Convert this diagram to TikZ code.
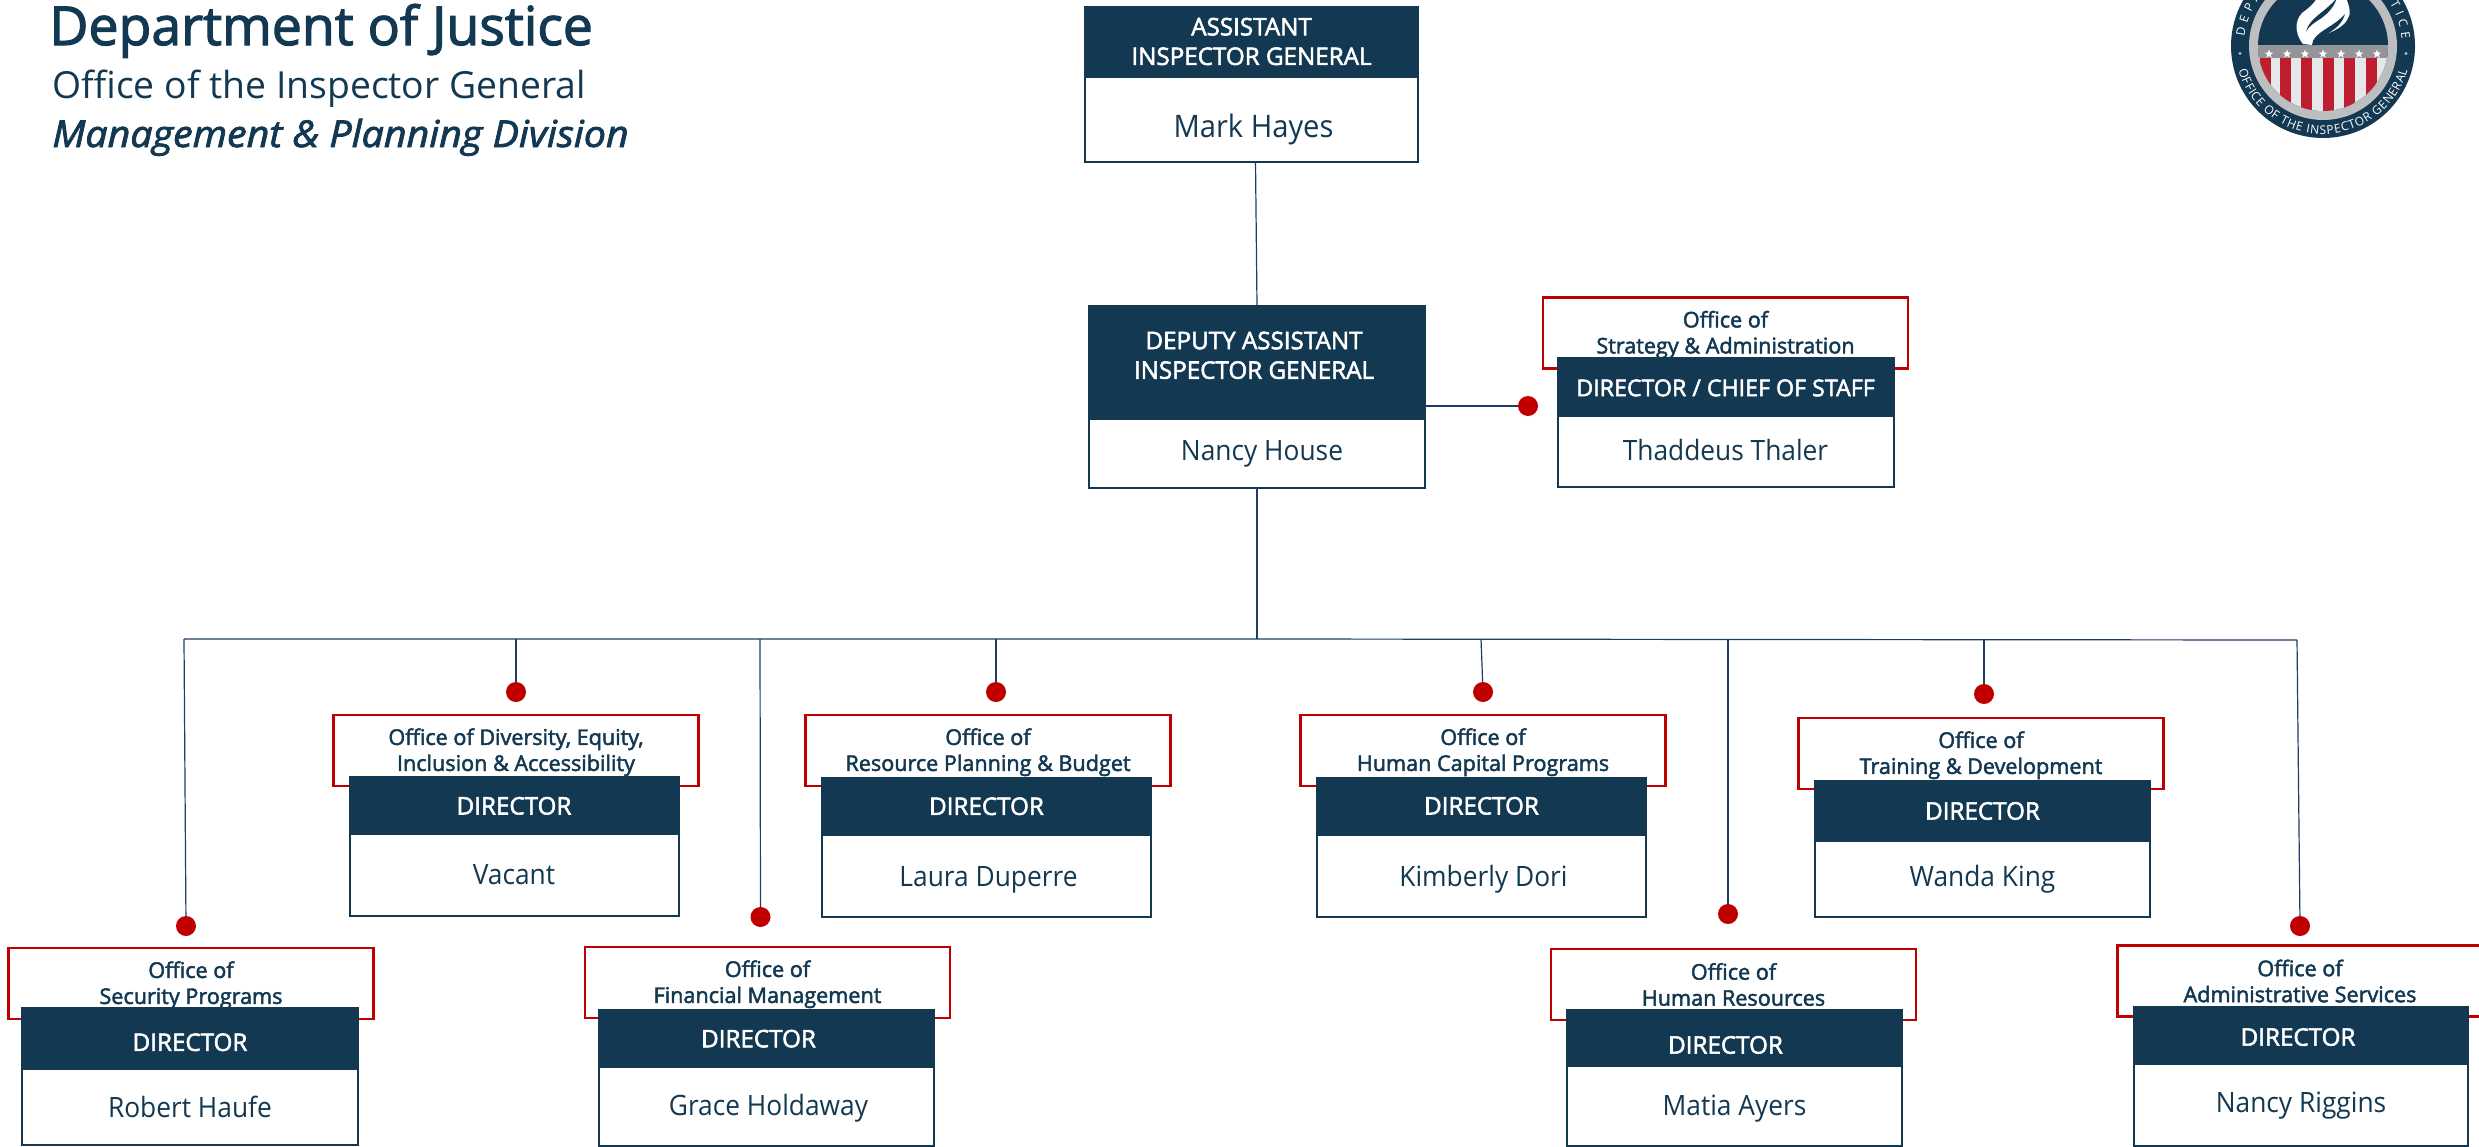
\documentclass[tikz,border=0pt]{standalone}
\usepackage{fontspec}
\setmainfont{Open Sans}
\newfontfamily\semifont[FakeBold=2.2]{Open Sans}
\newfontfamily\namefont[FakeStretch=0.94]{Open Sans}
\newfontfamily\divfont[FakeBold=2.2,FakeStretch=1.065]{Open Sans}
\usepackage{tikz}
\usetikzlibrary{positioning, shapes.geometric, decorations.text}
\definecolor{navy}{HTML}{123852}
\definecolor{linkblue}{HTML}{1F3B66}
\definecolor{orgred}{HTML}{C00000}
\definecolor{ringgrey}{HTML}{BCBEC0}
\definecolor{bandgrey}{HTML}{939598}
\definecolor{stripered}{HTML}{BE1E2D}
\definecolor{stripewhite}{HTML}{E6E7E8}
\newcommand{\lowerby}[2]{\raisebox{-#1pt}[0pt][0pt]{#2}}
\tikzset{
	boxsize/.style 2 args={minimum width=#1*0.5pt, minimum height=#2*0.5pt},
	headbox/.style={rectangle, draw=navy, fill=navy, text=white, line width=1pt, inner sep=0pt, outer sep=0pt, align=center, font=\fontsize{12.1}{14.8}\semifont},
	namebox/.style={rectangle, draw=navy, fill=white, text=navy, line width=1pt, inner sep=0pt, outer sep=0pt, font=\fontsize{14}{17}\namefont},
	officebox/.style={rectangle, draw=orgred, fill=white, text=navy, line width=1.2pt, inner sep=0pt, outer sep=0pt, align=center, minimum width=182.5pt, minimum height=35.5pt, font=\fontsize{10.8}{13}\semifont},
	reddot/.style={circle, fill=orgred, inner sep=0pt, outer sep=0pt, minimum size=10pt},
	link/.style={draw=linkblue, line width=0.6pt},
	titletext/.style={anchor=base west, inner sep=0pt, text=navy}
}

\begin{document}
\begin{tikzpicture}[x=0.5pt, y=-0.5pt]
		\clip (0,0) rectangle (2479,1146);
		% title %
		\node[titletext, font=\fontsize{26.8}{30}\semifont] (dept) at (49,45) {Department of Justice};
		\node[titletext, font=\fontsize{18.65}{22}\selectfont] (oig) at (52,98) {Office of the Inspector General};
		\node[titletext, font=\fontsize{18.5}{22}\divfont\itshape] (mpd) at (52,147) {Management \& Planning Division};

		% top nodes %
		\node[headbox, boxsize={333}{70}] (hhayes) at (1251.5,41.5) {ASSISTANT\\INSPECTOR GENERAL};
		\node[namebox, boxsize={333}{85}, below=0pt of hhayes] (nhayes) {\fontsize{15.5}{18}\selectfont\lowerby{9}{\hspace*{2pt}Mark Hayes}};
		\node[headbox, boxsize={336}{113}] (hhouse) at (1257,362.5) {\hspace*{-3pt}DEPUTY ASSISTANT\\\hspace*{-3pt}INSPECTOR GENERAL\\[-7.5pt]\mbox{}};
		\node[namebox, boxsize={336}{69}, below=0pt of hhouse] (nhouse) {\lowerby{3.3}{\hspace*{5pt}Nancy House}};

		\node[officebox] (ostrategy) at (1725.5,333) {\rule{0pt}{10pt}Office of\\Strategy \& Administration};
		\node[headbox, boxsize={336}{58}] (hthaler) at (1725.5,387) {\fontsize{11.6}{14}\semifont\lowerby{4.6}{DIRECTOR / CHIEF OF STAFF}};
		\node[namebox, boxsize={336}{71}, below=0pt of hthaler] (nthaler) {\lowerby{4.4}{Thaddeus Thaler}};
		\node[reddot] (dstrategy) at (1528,406) {};

		% second row %
		\node[officebox] (odiversity) at (516,750.5) {\rule{0pt}{10pt}Office of Diversity, Equity,\\Inclusion \& Accessibility};
		\node[headbox, boxsize={329}{57}] (hvacant) at (514,805.5) {\lowerby{4.5}{DIRECTOR}};
		\node[namebox, boxsize={329}{82}, below=0pt of hvacant] (nvacant) {\lowerby{4.9}{Vacant}};
		\node[reddot] (ddiversity) at (516,692) {};

		\node[officebox] (oresource) at (988,750.5) {\rule{0pt}{10pt}Office of\\Resource Planning \& Budget};
		\node[headbox, boxsize={329}{57}] (hduperre) at (986.5,806.5) {\lowerby{4.2}{DIRECTOR}};
		\node[namebox, boxsize={329}{82}, below=0pt of hduperre] (nduperre) {\lowerby{5.2}{\hspace*{2pt}Laura Duperre}};
		\node[reddot] (dresource) at (996,692) {};

		\node[officebox] (ocapital) at (1483,750.5) {\rule{0pt}{10pt}Office of\\Human Capital Programs};
		\node[headbox, boxsize={329}{57}] (hdori) at (1481.5,806.5) {\lowerby{4}{DIRECTOR}};
		\node[namebox, boxsize={329}{82}, below=0pt of hdori] (ndori) {\lowerby{5.2}{\hspace*{2pt}Kimberly Dori}};
		\node[reddot] (dcapital) at (1483,692) {};

		\node[officebox] (otraining) at (1981,753.5) {\rule{0pt}{10pt}Office of\\Training \& Development};
		\node[headbox, boxsize={335}{60}] (hking) at (1982.5,811) {\lowerby{4.3}{DIRECTOR}};
		\node[namebox, boxsize={335}{76}, below=0pt of hking] (nking) {\lowerby{3.7}{Wanda King}};
		\node[reddot] (dtraining) at (1984,694) {};

		% bottom row %
		\node[officebox] (osecurity) at (191,983.5) {\rule{0pt}{10pt}Office of\\Security Programs};
		\node[headbox, boxsize={336}{61}] (hhaufe) at (190,1038.5) {\lowerby{6.2}{DIRECTOR}};
		\node[namebox, boxsize={336}{76}, below=0pt of hhaufe] (nhaufe) {\lowerby{5.3}{Robert Haufe}};
		\node[reddot] (dsecurity) at (186,926) {};

		\node[officebox] (ofinancial) at (767.5,982.5) {\rule{0pt}{10pt}Office of\\Financial Management};
		\node[headbox, boxsize={335}{57}] (hholdaway) at (766.5,1038.5) {\lowerby{4.4}{\hspace*{-8pt}DIRECTOR}};
		\node[namebox, boxsize={335}{79}, below=0pt of hholdaway] (nholdaway) {\lowerby{4.5}{\hspace*{2pt}Grace Holdaway}};
		\node[reddot] (dfinancial) at (760.5,917) {};

		\node[officebox] (ohuman) at (1733.5,984.5) {Office of\\Human Resources};
		\node[headbox, boxsize={335}{56}] (hayers) at (1734.5,1038) {\lowerby{7.8}{\hspace*{-9pt}DIRECTOR}};
		\node[namebox, boxsize={335}{80}, below=0pt of hayers] (nayers) {\lowerby{4.8}{Matia Ayers}};
		\node[reddot] (dhuman) at (1728,914) {};

		\node[officebox] (oadmin) at (2300,981) {Office of\\Administrative Services};
		\node[headbox, boxsize={334}{57}] (hriggins) at (2301,1035.5) {\lowerby{5.1}{\hspace*{-3pt}DIRECTOR}};
		\node[namebox, boxsize={334}{82}, below=0pt of hriggins] (nriggins) {\lowerby{3.8}{Nancy Riggins}};
		\node[reddot] (dadmin) at (2300,926) {};

		% edges %
		\coordinate (bsecurity) at (184,639);
		\coordinate (bdiversity) at (516,639);
		\coordinate (bfinancial) at (760,639);
		\coordinate (bresource) at (996,639);
		\coordinate (btrunk) at (1257,639);
		\coordinate (bcapital) at (1481,639);
		\coordinate (bhuman) at (1728,640);
		\coordinate (btraining) at (1984,640);
		\coordinate (badmin) at (2297,640);
		\draw[link] ([xshift=2pt]nhayes.south) -- (hhouse.north);
		\draw[link] (nhouse.south) -- (btrunk);
		\draw[link] (hhouse.east |- dstrategy) -- (dstrategy);
		\draw[link] (bsecurity) -- (btrunk) -- (badmin);
		\draw[link] (bsecurity) -- (dsecurity);
		\draw[link] (bdiversity) -- (ddiversity);
		\draw[link] (bfinancial) -- (dfinancial);
		\draw[link] (bresource) -- (dresource);
		\draw[link] (bcapital) -- (dcapital);
		\draw[link] (bhuman) -- (dhuman);
		\draw[link] (btraining) -- (dtraining);
		\draw[link] (badmin) -- (dadmin);

		% seal %
		\begin{scope}[shift={(2323,46)}, x=0.5pt, y=0.5pt]
			\fill[navy] (0,0) circle (92);
			\fill[ringgrey] (0,0) circle (74);
			\begin{scope}
				\clip (0,0) circle (65);
				\fill[navy] (-66,-66) rectangle (66,66);
				\fill[stripewhite] (-66,-66) rectangle (66,-12);
				\foreach \sx in {-63,-43,-22,0,21,43}
					\fill[stripered] (\sx,-66) rectangle ++(10.5,54);
				\fill[bandgrey] (-66,-12) rectangle (66,1);
				\foreach \sx in {-54,-36,-18,0,18,36,54}
					\node[star, star points=5, star point ratio=2.4, fill=white, inner sep=0pt, minimum size=4.5pt] at (\sx,-8) {};
				\fill[white] (-20,2) .. controls (-30,14) and (-28,30) .. (-17,36) .. controls (-12,40) and (-8,44) .. (-6,48) -- (23,48) .. controls (27,38) and (28,32) .. (25,28) .. controls (22,20) and (10,14) .. (0,11) .. controls (-6,9) and (-10,5) .. (-11,1) -- cycle;
				\fill[navy] (-17,14) .. controls (-14,28) and (0,32) .. (14,48) .. controls (6,26) and (-12,26) .. (-17,14) -- cycle;
				\fill[navy] (-11,1) .. controls (-10,14) and (10,18) .. (22,32) .. controls (16,12) and (-6,12) .. (-6,1) -- cycle;
			\end{scope}
			\fill[ringgrey] (-83,-7.5) circle (1.6);
			\fill[ringgrey] (83,-7.5) circle (1.6);
			\path[decorate, decoration={text along path, text align={fit to path}, text={|\fontsize{6}{6}\selectfont\color{white}|OFFICE OF THE INSPECTOR GENERAL}}] (196:88) arc (196:344:88);
			\path[decorate, decoration={text along path, text align={fit to path}, text={|\fontsize{6}{6}\selectfont\color{white}|DEPARTMENT OF JUSTICE}}] (173:79) arc (173:5:79);
		\end{scope}
		\end{tikzpicture}
\end{document}
